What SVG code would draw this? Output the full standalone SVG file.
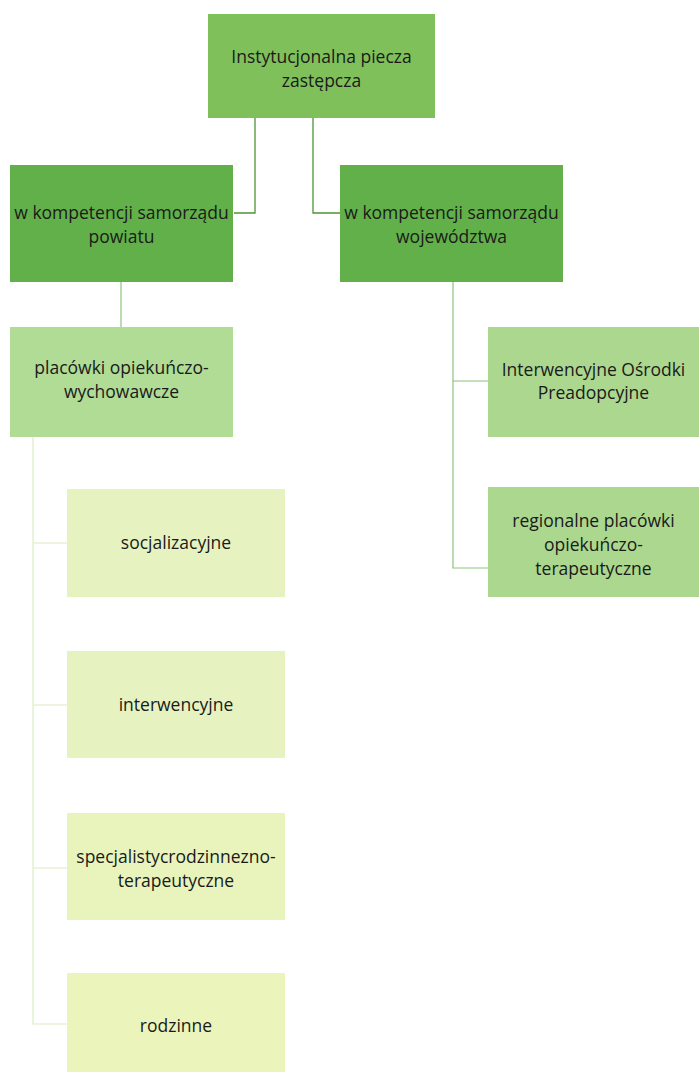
<svg xmlns="http://www.w3.org/2000/svg" width="699" height="1072" viewBox="0 0 699 1072">
<style>
text{font-family:"Open Sans","Liberation Sans",sans-serif;font-size:17.5px;fill:#1a1a1a;text-anchor:middle}
.c1{stroke:#4e9436;stroke-width:1.3;fill:none}
.c2{stroke:#8cc47a;stroke-width:1.2;fill:none}
.c3{stroke:#dcecc4;stroke-width:1.2;fill:none}
</style>
<rect width="699" height="1072" fill="#ffffff"/>
<g id="connectors">
<polyline class="c1" points="255,118 255,213 234,213"/>
<polyline class="c1" points="313,118 313,213 340,213"/>
<line class="c2" x1="121" y1="282" x2="121" y2="327"/>
<polyline class="c2" points="453,282 453,568 488,568"/>
<line class="c2" x1="453" y1="381" x2="488" y2="381"/>
<polyline class="c3" points="33,437 33,1024 67,1024"/>
<line class="c3" x1="33" y1="543" x2="67" y2="543"/>
<line class="c3" x1="33" y1="705" x2="67" y2="705"/>
<line class="c3" x1="33" y1="868" x2="67" y2="868"/>
</g>
<g id="n-root"><rect x="208" y="14" width="227" height="104" fill="#80c05a"/>
<text x="321.5" y="63">Instytucjonalna piecza</text><text x="321.5" y="87">zastępcza</text></g>
<g id="n-powiat"><rect x="10" y="165" width="223" height="117" fill="#62b049"/>
<text x="121.5" y="219">w kompetencji samorządu</text><text x="121.5" y="243">powiatu</text></g>
<g id="n-woj"><rect x="340" y="165" width="223" height="117" fill="#62b049"/>
<text x="451.5" y="219">w kompetencji samorządu</text><text x="451.5" y="243">województwa</text></g>
<g id="n-placowki"><rect x="10" y="327" width="223" height="110" fill="#b0dc96"/>
<text x="121.5" y="374">placówki opiekuńczo-</text><text x="121.5" y="398">wychowawcze</text></g>
<g id="n-ośrodki"><rect x="488" y="327" width="211" height="110" fill="#abd78e"/>
<text x="593.5" y="376">Interwencyjne Ośrodki</text><text x="593.5" y="399">Preadopcyjne</text></g>
<g id="n-regionalne"><rect x="488" y="487" width="211" height="110" fill="#abd78e"/>
<text x="593.5" y="527">regionalne placówki</text><text x="593.5" y="551">opiekuńczo-</text><text x="593.5" y="575">terapeutyczne</text></g>
<g id="n-socjal"><rect x="67" y="489" width="218" height="108" fill="#e6f3c0"/>
<text x="176" y="549">socjalizacyjne</text></g>
<g id="n-interw"><rect x="67" y="651" width="218" height="107" fill="#e6f3c0"/>
<text x="176" y="711">interwencyjne</text></g>
<g id="n-spec"><rect x="67" y="813" width="218" height="107" fill="#e8f4bc"/>
<text x="176" y="863">specjalistycrodzinnezno-</text><text x="176" y="887">terapeutyczne</text></g>
<g id="n-rodzinne"><rect x="67" y="973" width="218" height="99" fill="#ebf5bb"/>
<text x="176" y="1032">rodzinne</text></g>
</svg>
